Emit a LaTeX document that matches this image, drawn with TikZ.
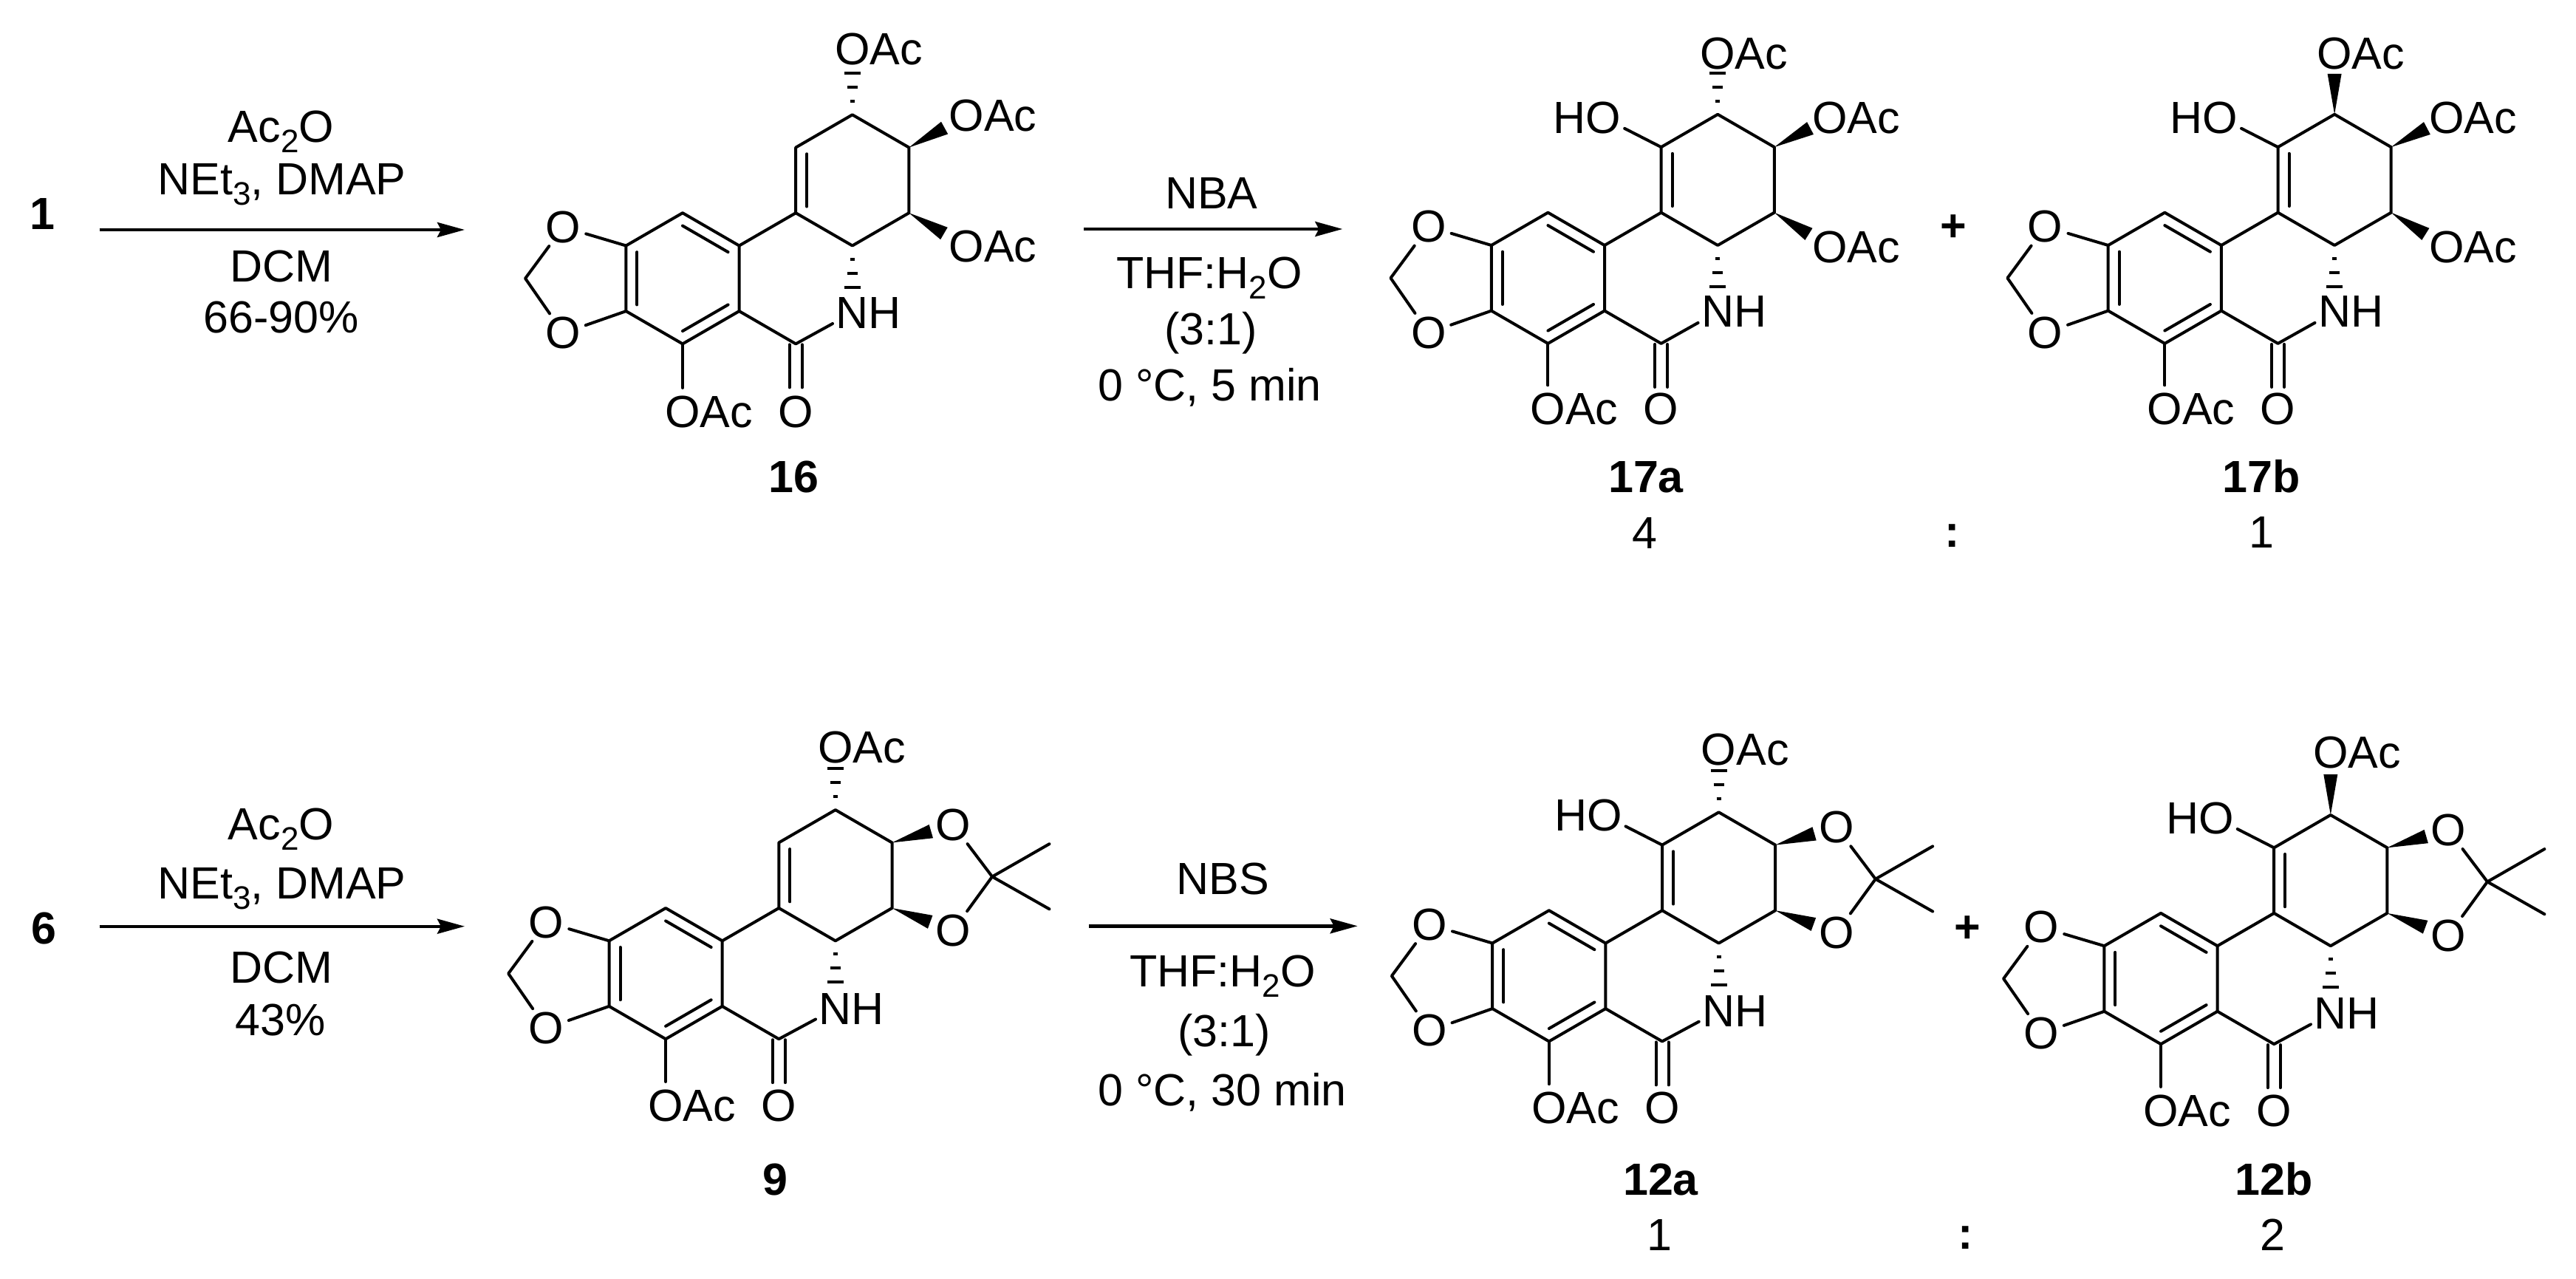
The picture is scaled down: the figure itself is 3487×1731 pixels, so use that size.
\documentclass[tikz,border=0pt]{standalone}
\usepackage{fontspec}
\setmainfont{Liberation Sans}
\usetikzlibrary{calc,arrows.meta}
\newcommand\subs[1]{\raisebox{-14pt}{\fontsize{44}{44}\selectfont #1}}
\tikzset{
  bond/.style={line width=4pt,line cap=round,line join=round,black},
  hashbar/.style={line width=4pt,line cap=butt,black},
  atom/.style={circle,inner sep=0pt,font=\fontsize{61}{72}\selectfont},
  txt/.style={inner sep=0pt,anchor=base,font=\fontsize{61}{72}\selectfont},
  cmpd/.style={inner sep=0pt,anchor=base,font=\fontsize{61}{72}\selectfont\bfseries},
  sign/.style={inner sep=0pt,font=\fontsize{61}{72}\selectfont\bfseries},
  rxn/.style={line width=4.4pt,-{Stealth[length=37pt,width=20pt,inset=5pt]}},
  molgrid/.style 2 args={shift={(#1,#2)},x=76.6pt,y=44.3pt}
}
\newcommand\wedgebond[2]{%
  \coordinate (wb) at ($(#1)!55pt!(#2)$);
  \fill[black] (#1) -- ($(wb)!9.5pt!90:(#2)$) -- ($(wb)!9.5pt!-90:(#2)$) -- cycle;
}
\newcommand\hashbond[2]{%
  \foreach \d/\w in {18/3,37/7,56/11}{%
    \coordinate (hb) at ($(#1)!\d pt!(#2)$);
    \draw[hashbar] ($(hb)!\w pt!90:(#2)$) -- ($(hb)!\w pt!-90:(#2)$);
  }%
}
% #1 prefix, #2 height of lower OAc and =O, #3 of NH
\newcommand\corerings[3]{%
  \coordinate (#1rc) at (0,0);
  \coordinate (#1rd) at (3,3);
  \coordinate (#1a1) at (0,2);
  \coordinate (#1a2) at (1,1);
  \coordinate (#1a3) at (1,-1);
  \coordinate (#1a4) at (0,-2);
  \coordinate (#1a5) at (-1,-1);
  \coordinate (#1a6) at (-1,1);
  \coordinate (#1cc) at (2,-2);
  \coordinate (#1c2) at (2,2);
  \coordinate (#1c3) at (2,4);
  \coordinate (#1c4) at (3,5);
  \coordinate (#1c5) at (4,4);
  \coordinate (#1c6) at (4,2);
  \coordinate (#1c7) at (3,1);
  \coordinate (#1ch) at (-2.78,0);
  \node[atom] (#1ou) at (-2.11,1.57) {O};
  \node[atom] (#1ol) at (-2.11,-1.67) {O};
  \node[atom] (#1nh) at (3,#3) {N\rlap{H}};
  \node[atom] (#1oa) at (0,#2) {O\rlap{Ac}};
  \node[atom] (#1ok) at (2,#2) {O};
  \draw[bond] (#1a1)--(#1a2)--(#1a3)--(#1a4)--(#1a5)--(#1a6)--cycle;
  \draw[bond] ($(#1rc)!0.804!(#1a6)$)--($(#1rc)!0.804!(#1a5)$);
  \draw[bond] ($(#1rc)!0.804!(#1a1)$)--($(#1rc)!0.804!(#1a2)$);
  \draw[bond] ($(#1rc)!0.804!(#1a3)$)--($(#1rc)!0.804!(#1a4)$);
  \draw[bond] (#1c2)--(#1c3)--(#1c4)--(#1c5)--(#1c6)--(#1c7)--cycle;
  \draw[bond] ($(#1rd)!0.804!(#1c2)$)--($(#1rd)!0.804!(#1c3)$);
  \draw[bond] (#1a2)--(#1c2);
  \draw[bond] (#1a3)--(#1cc)--(#1nh);
  \draw[bond] (#1a4)--(#1oa);
  \draw[bond] ($(#1cc)+(-8.5pt,-1pt)$)--($(#1cc)+(-8.5pt,-59pt)$);
  \draw[bond] ($(#1cc)+(8.5pt,-1pt)$)--($(#1cc)+(8.5pt,-59pt)$);
  \draw[bond] (#1a6)--(#1ou)--(#1ch)--(#1ol)--(#1a5);
  \hashbond{#1c7}{#1nh}
}
% acetonide on c5/c6
\newcommand\acetonide[1]{%
  \node[atom] (#1pu) at (5.08,4.54) {O};
  \node[atom] (#1pl) at (5.08,1.32) {O};
  \coordinate (#1pc) at (5.77,2.96);
  \coordinate (#1mu) at (6.78,3.96);
  \coordinate (#1ml) at (6.78,1.97);
  \wedgebond{#1c5}{#1pu}
  \wedgebond{#1c6}{#1pl}
  \draw[bond] (#1pu)--(#1pc)--(#1pl);
  \draw[bond] (#1mu)--(#1pc)--(#1ml);
}
\newcommand\hydroxy[1]{%
  \node[atom] (#1oh) at (0.98,4.9) {\llap{H}O};
  \draw[bond] (#1c3)--(#1oh);
}
\begin{document}
\begin{tikzpicture}[x=1pt,y=-1pt]
\useasboundingbox (0,0) rectangle (3487,1731);

% --- compound 16
\begin{scope}[molgrid={924}{376.8}]
  \corerings{p}{-4.07}{-1.05}
  \node[atom] (pt) at (3,7) {O\rlap{Ac}};
  \node[atom] (pr) at (5.02,4.97) {O\rlap{Ac}};
  \node[atom] (ps) at (5.02,0.97) {O\rlap{Ac}};
  \hashbond{pc4}{pt}
  \wedgebond{pc5}{pr}
  \wedgebond{pc6}{ps}
\end{scope}
% --- compound 17a
\begin{scope}[molgrid={2095.4}{376.3}]
  \corerings{q}{-4}{-1.03}
  \hydroxy{q}
  \node[atom] (qt) at (3,6.86) {O\rlap{Ac}};
  \node[atom] (qr) at (4.98,4.89) {O\rlap{Ac}};
  \node[atom] (qs) at (4.98,0.94) {O\rlap{Ac}};
  \hashbond{qc4}{qt}
  \wedgebond{qc5}{qr}
  \wedgebond{qc6}{qs}
\end{scope}
% --- compound 17b
\begin{scope}[molgrid={2930.3}{376.3}]
  \corerings{r}{-4}{-1.03}
  \hydroxy{r}
  \node[atom] (rt) at (3,6.86) {O\rlap{Ac}};
  \node[atom] (rr) at (4.98,4.89) {O\rlap{Ac}};
  \node[atom] (rs) at (4.98,0.94) {O\rlap{Ac}};
  \wedgebond{rc4}{rt}
  \wedgebond{rc5}{rr}
  \wedgebond{rc6}{rs}
\end{scope}
% --- compound 9
\begin{scope}[molgrid={901.1}{1317.6}]
  \corerings{s}{-4.03}{-1.07}
  \node[atom] (st) at (3,6.92) {O\rlap{Ac}};
  \hashbond{sc4}{st}
  \acetonide{s}
\end{scope}
% --- compound 12a
\begin{scope}[molgrid={2096.8}{1320.8}]
  \corerings{t}{-4.03}{-1.07}
  \hydroxy{t}
  \node[atom] (tt) at (3,6.92) {O\rlap{Ac}};
  \hashbond{tc4}{tt}
  \acetonide{t}
\end{scope}
% --- compound 12b
\begin{scope}[molgrid={2925}{1324.5}]
  \corerings{u}{-4.03}{-1.07}
  \hydroxy{u}
  \node[atom] (ut) at (3,6.9) {O\rlap{Ac}};
  \wedgebond{uc4}{ut}
  \acetonide{u}
\end{scope}

% --- compound labels
\node[cmpd] (l1) at (57.7,310.7) {1};
\node[cmpd] (l6) at (59,1277.3) {6};
\node[cmpd] (l16) at (1074.5,666.5) {16};
\node[cmpd] (l17a) at (2228,666) {17a};
\node[cmpd] (l17b) at (3061.4,666) {17b};
\node[cmpd] (l9) at (1049.6,1617) {9};
\node[cmpd] (l12a) at (2248,1617) {12a};
\node[cmpd] (l12b) at (3078,1617) {12b};

% --- ratios and plus signs
\node[txt] (r4) at (2226.5,742) {4};
\node[txt] (r1) at (3061,741) {1};
\node[cmpd] (rc1) at (2643,740) {:};
\node[txt] (r1b) at (2246,1692) {1};
\node[txt] (r2) at (3076,1692) {2};
\node[cmpd] (rc2) at (2660.7,1690.5) {:};
\node[sign] (pl1) at (2643.9,309) {+};
\node[sign] (pl2) at (2663.3,1258) {+};

% --- arrows
\coordinate (ar1s) at (134.7,311);
\coordinate (ar1e) at (629,311);
\coordinate (ar2s) at (1467.3,310);
\coordinate (ar2e) at (1817.3,310);
\coordinate (ar3s) at (134.7,1253.7);
\coordinate (ar3e) at (629,1253.7);
\coordinate (ar4s) at (1474,1253.3);
\coordinate (ar4e) at (1837.7,1253.3);
\draw[rxn] (ar1s) -- (ar1e);
\draw[rxn] (ar2s) -- (ar2e);
\draw[rxn] (ar3s) -- (ar3e);
\draw[rxn] (ar4s) -- (ar4e);

% --- reagents, upper row
\node[txt] (t1) at (380.5,192.7) {Ac\subs{2}O};
\node[txt] (t2) at (381.5,263.3) {NEt\subs{3}, DMAP};
\node[txt] (t3) at (381,381) {DCM};
\node[txt] (t4) at (380.5,450.7) {66-90\%};
\node[txt] (t5) at (1639.7,282.7) {NBA};
\node[txt] (t6) at (1637,390.7) {THF:H\subs{2}O};
\node[txt] (t7) at (1638.8,466.7) {(3:1)};
\node[txt] (t8) at (1637.7,542.7) {0 °C, 5 min};

% --- reagents, lower row
\node[txt] (b1) at (380.5,1136) {Ac\subs{2}O};
\node[txt] (b2) at (381.5,1216.7) {NEt\subs{3}, DMAP};
\node[txt] (b3) at (381,1330.7) {DCM};
\node[txt] (b4) at (379.8,1401.7) {43\%};
\node[txt] (b5) at (1655.5,1210.7) {NBS};
\node[txt] (b6) at (1655,1335) {THF:H\subs{2}O};
\node[txt] (b7) at (1656.7,1416) {(3:1)};
\node[txt] (b8) at (1654.7,1496.7) {0 °C, 30 min};
\end{tikzpicture}
\end{document}
